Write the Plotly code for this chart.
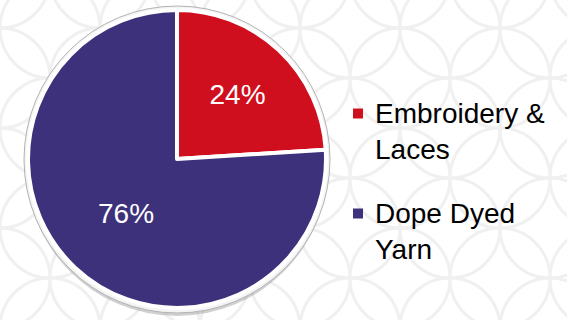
import plotly.graph_objects as go

labels = ["Embroidery &<br>Laces", "Dope Dyed<br>Yarn"]
values = [24, 76]
colors = ["#D00F1E", "#3E317C"]

W, H = 567, 320
CX, CY, R = 177, 159, 149  # pie centre / radius in px
FONT = "Liberation Sans, Arial"


def px_x(x):
    return x / W


def px_y(y):
    return 1 - y / H


shapes = []
# decorative background: overlapping-circle pattern
r = 50
for j in range(-2, 6):
    for i in range(-2, 8):
        for (dx, dy) in [(0, 0), (r, r)]:
            cx = 2 * r * i + 50 + dx
            cy = 2 * r * j + 28 + dy
            shapes.append(dict(
                type="circle", xref="paper", yref="paper", layer="below",
                x0=px_x(cx - r), x1=px_x(cx + r), y0=px_y(cy + r), y1=px_y(cy - r),
                line=dict(color="#f0f0f0", width=3), fillcolor="rgba(0,0,0,0)",
            ))

# shadow and rim behind pie
shapes.append(dict(type="circle", xref="paper", yref="paper", layer="below",
                   x0=px_x(CX - 152), x1=px_x(CX + 152), y0=px_y(CY + 157), y1=px_y(CY - 150),
                   line=dict(width=0), fillcolor="rgba(150,150,150,0.45)"))
shapes.append(dict(type="circle", xref="paper", yref="paper", layer="below",
                   x0=px_x(CX - 153), x1=px_x(CX + 153), y0=px_y(CY + 154), y1=px_y(CY - 153),
                   line=dict(color="#b4b4b4", width=1), fillcolor="#f4f4f4"))

fig = go.Figure(go.Pie(
    labels=labels,
    values=values,
    sort=False,
    direction="clockwise",
    rotation=0,
    marker=dict(colors=colors, line=dict(color="white", width=4)),
    textinfo="percent",
    textposition="inside",
    insidetextorientation="horizontal",
    textfont=dict(family=FONT, size=28, color="white"),
    domain=dict(x=[px_x(CX - R), px_x(CX + R)], y=[px_y(CY + R), px_y(CY - R)]),
    hoverinfo="label+percent",
    showlegend=False,
))

# legend drawn as keyed text entries
annotations = []
LEG_X, LEG_Y0, LEG_STEP = 373, 96, 100
for k, (lab, col) in enumerate(zip(labels, colors)):
    top = LEG_Y0 + k * LEG_STEP
    annotations.append(dict(
        xref="paper", yref="paper", x=px_x(LEG_X), y=px_y(top),
        xanchor="left", yanchor="top", align="left", showarrow=False,
        text=lab, font=dict(family=FONT, size=28, color="black"),
    ))
    sq_c = top + 17.5
    shapes.append(dict(type="rect", xref="paper", yref="paper",
                       x0=px_x(353), x1=px_x(363), y0=px_y(sq_c + 5), y1=px_y(sq_c - 5),
                       line=dict(width=0), fillcolor=col))

fig.update_layout(
    width=W, height=H,
    margin=dict(l=0, r=0, t=0, b=0),
    paper_bgcolor="white",
    plot_bgcolor="white",
    shapes=shapes,
    annotations=annotations,
)

fig.write_html("out.html")
